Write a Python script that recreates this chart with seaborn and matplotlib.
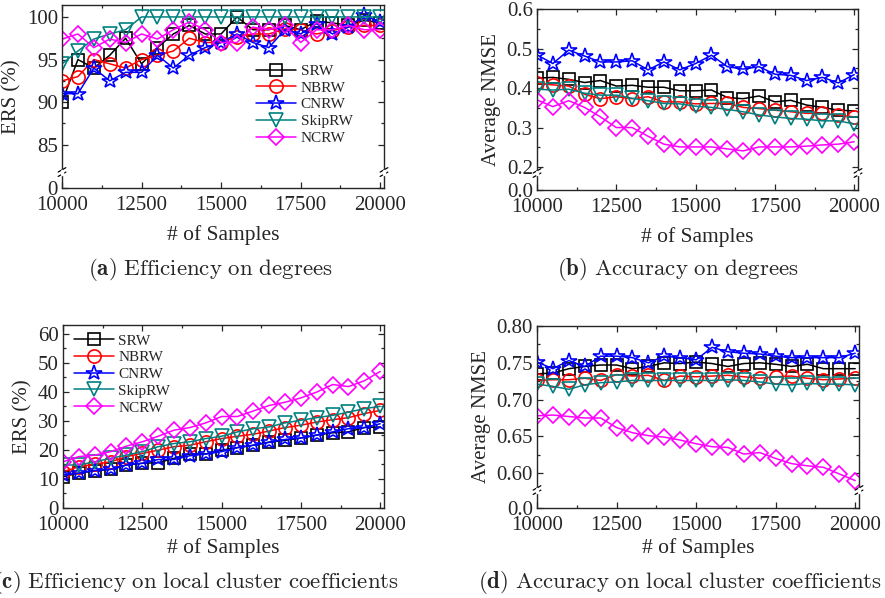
import numpy as np
import pandas as pd
import matplotlib
matplotlib.use('Agg')
import matplotlib.pyplot as plt
from matplotlib.ticker import FixedLocator, MultipleLocator
import seaborn as sns

# ---------------- data ----------------
samples = list(range(10000, 20001, 500))
methods = ['SRW', 'NBRW', 'CNRW', 'SkipRW', 'NCRW']

# (a) ERS (%) on degrees
a_srw = [90, 95, 94, 95.5, 97.5, 94.5, 96.4, 98, 99, 98, 98, 100, 98.5, 98.5, 99, 98.5, 99.5, 99.3, 99, 99.6, 99.3]
a_nbrw = [92.5, 93, 95, 94.5, 94, 95, 95.5, 96, 97.5, 97, 97, 97.7, 98, 98, 98.6, 98.5, 98, 98.4, 98.8, 99, 99]
a_cnrw = [91, 91, 94, 92.5, 93.5, 93.5, 95.5, 94, 95.5, 96.4, 97, 98, 97, 96.4, 98.5, 98, 99.2, 98, 98.8, 100.2, 99.4]
a_skip = [94.5, 96, 97.4, 98, 98.5, 100, 100, 100, 100, 100, 100, 100, 100, 100, 100, 100, 100, 100, 100, 100, 100]
a_ncrw = [97.4, 98, 96.4, 97.4, 97, 98, 97.4, 98.5, 99.4, 98.5, 97, 97, 98.8, 98.5, 99, 97, 98.5, 98.5, 99, 98.5, 98.5]

# (b) average NMSE on degrees
b_srw = [0.425, 0.427, 0.422, 0.414, 0.419, 0.405, 0.407, 0.402, 0.402, 0.393, 0.393, 0.395, 0.376, 0.373, 0.38, 0.365, 0.369, 0.357, 0.351, 0.344, 0.342]
b_nbrw = [0.412, 0.408, 0.405, 0.384, 0.373, 0.378, 0.373, 0.378, 0.365, 0.365, 0.36, 0.361, 0.361, 0.351, 0.348, 0.344, 0.34, 0.336, 0.336, 0.332, 0.327]
b_cnrw = [0.484, 0.462, 0.496, 0.481, 0.466, 0.466, 0.469, 0.446, 0.466, 0.446, 0.462, 0.483, 0.454, 0.448, 0.454, 0.435, 0.432, 0.419, 0.427, 0.413, 0.434]
b_skip = [0.397, 0.395, 0.397, 0.387, 0.382, 0.382, 0.374, 0.368, 0.361, 0.36, 0.354, 0.351, 0.346, 0.34, 0.332, 0.327, 0.323, 0.321, 0.317, 0.317, 0.309]
b_ncrw = [0.37, 0.353, 0.368, 0.351, 0.327, 0.3, 0.3, 0.278, 0.258, 0.251, 0.251, 0.251, 0.246, 0.241, 0.251, 0.251, 0.251, 0.253, 0.256, 0.258, 0.264]

# (c) ERS (%) on local cluster coefficients
c_srw = [10.8, 12, 12.8, 13.3, 14.8, 15.4, 15.6, 17.1, 18.6, 18.6, 19.9, 20.8, 21.6, 22.7, 23.3, 24.1, 25.1, 25.9, 26.2, 27.7, 27.9]
c_nbrw = [12.5, 14.2, 15.1, 15.9, 17.7, 18.8, 19.9, 21.1, 21.6, 22.8, 23.9, 24.7, 25.4, 26.5, 27.7, 28.5, 29.6, 30.4, 31.1, 32.5, 33.6]
c_cnrw = [11.4, 12, 12.9, 13.3, 14.8, 15.4, 16.7, 16.7, 18, 18.6, 19.4, 20.8, 21.6, 22.6, 23.6, 24.1, 25.1, 26.2, 27.3, 27.7, 29]
c_skip = [14.8, 14.8, 15.9, 17.1, 18.2, 19.4, 21.1, 22.2, 22.8, 23.9, 24.7, 26.2, 27.3, 27.9, 29.3, 30.2, 31.1, 31.9, 33, 34.2, 35]
c_ncrw = [15.9, 17.7, 18.2, 19.4, 21.3, 22.8, 24.7, 26.8, 27.7, 29.3, 31.5, 31.5, 33.4, 35.3, 36.4, 37.9, 39.9, 42.5, 41.8, 43.8, 47]

# (d) average NMSE on local cluster coefficients
d_srw = [0.735, 0.736, 0.742, 0.745, 0.747, 0.747, 0.742, 0.745, 0.75, 0.749, 0.751, 0.749, 0.745, 0.749, 0.75, 0.748, 0.745, 0.748, 0.742, 0.742, 0.742]
d_nbrw = [0.726, 0.727, 0.727, 0.729, 0.726, 0.734, 0.732, 0.733, 0.726, 0.732, 0.731, 0.732, 0.733, 0.731, 0.729, 0.731, 0.732, 0.729, 0.727, 0.728, 0.729]
d_cnrw = [0.751, 0.742, 0.753, 0.745, 0.759, 0.759, 0.757, 0.75, 0.759, 0.757, 0.754, 0.771, 0.765, 0.763, 0.762, 0.759, 0.757, 0.757, 0.757, 0.757, 0.763]
d_skip = [0.721, 0.718, 0.714, 0.72, 0.723, 0.724, 0.726, 0.726, 0.726, 0.726, 0.726, 0.726, 0.727, 0.726, 0.724, 0.721, 0.72, 0.722, 0.721, 0.721, 0.72]
d_ncrw = [0.678, 0.679, 0.677, 0.675, 0.675, 0.662, 0.655, 0.651, 0.649, 0.645, 0.64, 0.636, 0.635, 0.626, 0.628, 0.62, 0.613, 0.61, 0.608, 0.599, 0.59]

captions = ['(a)', '(b)', '(c)', '(d)']
caption_text = ['Efficiency on degrees', 'Accuracy on degrees',
                'Efficiency on local cluster coefficients',
                'Accuracy on local cluster coefficients']

# ---------------- style ----------------
sns.set_style('ticks')
plt.rcParams['font.family'] = 'serif'
plt.rcParams['font.serif'] = ['Liberation Serif', 'DejaVu Serif']
plt.rcParams['mathtext.fontset'] = 'cm'
plt.rcParams['xtick.direction'] = 'in'
plt.rcParams['ytick.direction'] = 'in'

COLORS = {'SRW': 'black', 'NBRW': 'red', 'CNRW': 'blue', 'SkipRW': '#008080', 'NCRW': '#ff00ff'}
MARKERS = {'SRW': 's', 'NBRW': 'o', 'CNRW': '*', 'SkipRW': 'v', 'NCRW': 'D'}
MSIZE = {'SRW': 8.5, 'NBRW': 9.5, 'CNRW': 11.5, 'SkipRW': 9.5, 'NCRW': 8}


def broken(b, g):
    def fwd(y):
        y = np.asarray(y, dtype=float)
        return np.where(y < b, y * g / b, y - b + g)

    def inv(f):
        f = np.asarray(f, dtype=float)
        return np.where(f < g, f * b / g, f - g + b)
    return fwd, inv


def draw_panel(ax, series, xpad):
    df = pd.DataFrame({'samples': samples * len(methods),
                       'method': np.repeat(methods, len(samples)),
                       'value': np.concatenate(series)})
    for m in methods:
        sub = df[df['method'] == m]
        sns.lineplot(data=sub, x='samples', y='value', ax=ax, color=COLORS[m],
                     marker=MARKERS[m], markersize=MSIZE[m], mfc='none',
                     mec=COLORS[m], mew=1.2, linewidth=1.1, label=m)
    ax.get_legend().remove()
    ax.set_xlim(10000, 20120)
    ax.xaxis.set_major_locator(FixedLocator([10000, 12500, 15000, 17500, 20000]))
    ax.xaxis.set_minor_locator(MultipleLocator(1250))
    ax.tick_params(which='both', top=True, right=True, labelsize=15, width=0.9)
    ax.tick_params(which='major', length=4, pad=3)
    ax.tick_params(axis='x', which='major', pad=6)
    ax.tick_params(which='minor', length=2)
    ax.set_xlabel('# of Samples', fontsize=15.5, labelpad=xpad)
    for s in ax.spines.values():
        s.set_linewidth(1.0)


def add_break(ax, frac):
    for x in (0, 1):
        for dy in (-0.012, 0.012):
            ax.plot([x - 0.012, x + 0.012], [frac + dy - 0.012, frac + dy + 0.012],
                    transform=ax.transAxes, color='black', lw=0.9, clip_on=False)
        ax.plot([x, x], [frac - 0.008, frac + 0.008], transform=ax.transAxes,
                color='white', lw=2.5, clip_on=False, zorder=5)


fig = plt.figure(figsize=(8.85, 5.98), dpi=100)
W, H = 885, 598
def box(l, t, r, b):
    return [l / W, 1 - b / H, (r - l) / W, (b - t) / H]

ax_a = fig.add_axes(box(62, 5, 384, 188))
ax_b = fig.add_axes(box(537, 9, 858, 190))
ax_c = fig.add_axes(box(63, 325, 384, 508))
ax_d = fig.add_axes(box(537, 326, 859, 508))

# (a)
draw_panel(ax_a, [a_srw, a_nbrw, a_cnrw, a_skip, a_ncrw], 7)
ba, ga, topa = 81.8, 1.87, 101.4
ax_a.set_yscale('function', functions=broken(ba, ga))
ax_a.set_ylim(0, topa)
ax_a.yaxis.set_major_locator(FixedLocator([0, 85, 90, 95, 100]))
ax_a.yaxis.set_minor_locator(FixedLocator([87.5, 92.5, 97.5]))
ax_a.set_ylabel('ERS (%)', fontsize=15, labelpad=4)
add_break(ax_a, ga / (topa - ba + ga))
h, l = ax_a.get_legend_handles_labels()
ax_a.legend(h, l, loc='upper left', bbox_to_anchor=(0.585, 0.71), frameon=False,
            fontsize=11, handlelength=2.6, labelspacing=0.2, handletextpad=0.3,
            borderaxespad=0)

# (b)
draw_panel(ax_b, [b_srw, b_nbrw, b_cnrw, b_skip, b_ncrw], 7)
bb, gb, topb = 0.185, 0.043, 0.6
ax_b.set_yscale('function', functions=broken(bb, gb))
ax_b.set_ylim(0, topb)
ax_b.yaxis.set_major_locator(FixedLocator([0.0, 0.2, 0.3, 0.4, 0.5, 0.6]))
ax_b.yaxis.set_minor_locator(FixedLocator([0.25, 0.35, 0.45, 0.55]))
ax_b.set_yticklabels(['0.0', '0.2', '0.3', '0.4', '0.5', '0.6'])
ax_b.set_ylabel('Average NMSE', fontsize=15, labelpad=4)
add_break(ax_b, gb / (topb - bb + gb))

# (c)
draw_panel(ax_c, [c_srw, c_nbrw, c_cnrw, c_skip, c_ncrw], 2)
ax_c.set_ylim(0, 63)
ax_c.yaxis.set_major_locator(MultipleLocator(10))
ax_c.yaxis.set_minor_locator(MultipleLocator(5))
ax_c.set_ylabel('ERS (%)', fontsize=15, labelpad=4)
h, l = ax_c.get_legend_handles_labels()
ax_c.legend(h, l, loc='upper left', bbox_to_anchor=(0.015, 0.985), frameon=False,
            fontsize=11, handlelength=2.6, labelspacing=0.2, handletextpad=0.3,
            borderaxespad=0)

# (d)
draw_panel(ax_d, [d_srw, d_nbrw, d_cnrw, d_skip, d_ncrw], 2)
bd, gd, topd = 0.577, 0.0243, 0.80
ax_d.set_yscale('function', functions=broken(bd, gd))
ax_d.set_ylim(0, topd)
ax_d.yaxis.set_major_locator(FixedLocator([0.0, 0.60, 0.65, 0.70, 0.75, 0.80]))
ax_d.yaxis.set_minor_locator(FixedLocator([0.625, 0.675, 0.725, 0.775]))
ax_d.set_yticklabels(['0.0', '0.60', '0.65', '0.70', '0.75', '0.80'])
ax_d.set_ylabel('Average NMSE', fontsize=15, labelpad=4)
add_break(ax_d, gd / (topd - bd + gd))

# captions
cap_pos = [(210, 270), (678, 270), (196, 582), (680, 582)]
for (cx, cy), tag, txt in zip(cap_pos, captions, caption_text):
    s = r'$\mathbf{' + tag + r'}\ \mathrm{' + txt.replace(' ', r'\ ') + r'}$'
    fig.text(cx / W, 1 - cy / H, s, fontsize=16.5, ha='center', va='center')

fig.savefig('out.png', dpi=100)
